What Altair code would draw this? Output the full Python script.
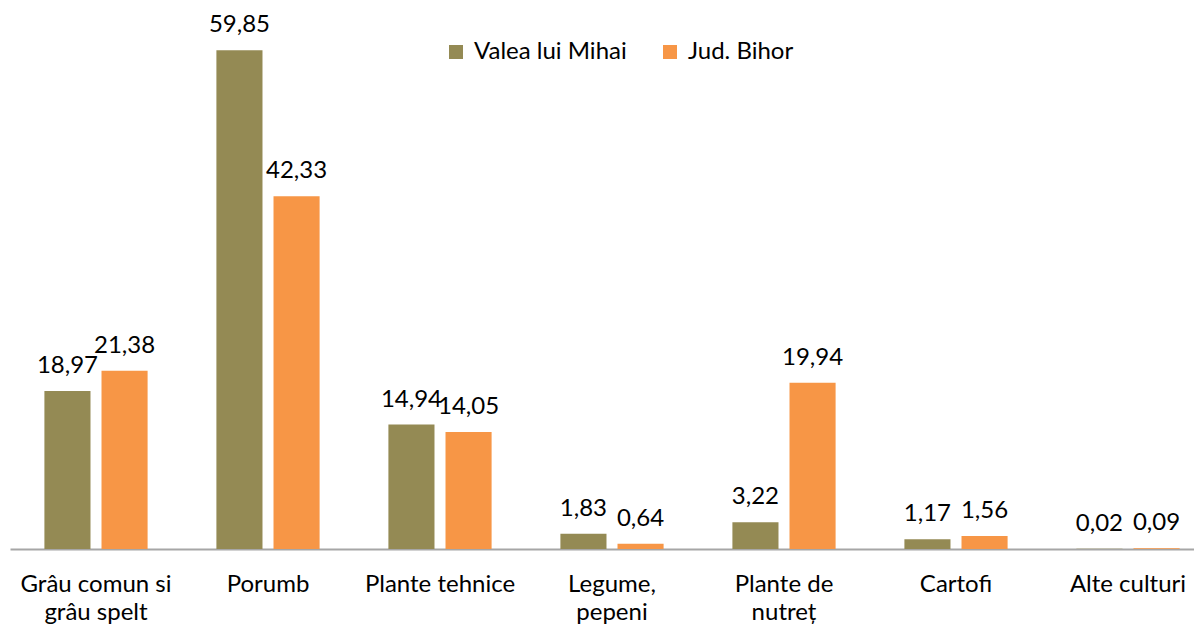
import altair as alt
import pandas as pd

categories = ["Grâu comun si\ngrâu spelt", "Porumb", "Plante tehnice", "Legume,\npepeni",
              "Plante de\nnutreț", "Cartofi", "Alte culturi"]
series = ["Valea lui Mihai", "Jud. Bihor"]
valea = [18.97, 59.85, 14.94, 1.83, 3.22, 1.17, 0.02]
bihor = [21.38, 42.33, 14.05, 0.64, 19.94, 1.56, 0.09]
colors = ["#948A54", "#F79646"]

rows = []
for c, a, b in zip(categories, valea, bihor):
    rows.append({"cat": c, "serie": series[0], "val": a})
    rows.append({"cat": c, "serie": series[1], "val": b})
df = pd.DataFrame(rows)

FONT = "Lato"

x = alt.X("cat:N", sort=categories, title=None,
          scale=alt.Scale(range=[0, 1204], paddingInner=0.4, paddingOuter=0.2),
          axis=alt.Axis(labelAngle=0, ticks=False, domainColor="#a6a6a6", domainWidth=2,
                        labelFontSize=24, labelFont=FONT, labelColor="#000000",
                        labelPadding=23, labelLineHeight=28, labelBaseline="top",
                        labelExpr="split(datum.label, '\\n')", labelLimit=300))
xo = alt.XOffset("serie:N", sort=series, scale=alt.Scale(paddingInner=0.193, paddingOuter=0))
y = alt.Y("val:Q", title=None, scale=alt.Scale(domain=[0, 60], nice=False, zero=True), axis=None)

base = alt.Chart(df).encode(x=x, xOffset=xo, y=y)

bars = base.mark_bar().encode(
    color=alt.Color("serie:N", sort=series, scale=alt.Scale(domain=series, range=colors),
                    legend=alt.Legend(title=None, orient="none", legendX=434, legendY=-9,
                                      direction="horizontal", symbolType="square", symbolSize=196,
                                      symbolStrokeWidth=0, labelFontSize=24, labelFont=FONT,
                                      labelColor="#000000", columnPadding=31, labelOffset=6))
)

labels = base.mark_text(baseline="alphabetic", dy=-18, fontSize=24, font=FONT, color="#000000").encode(
    text="lbl:N"
).transform_calculate(lbl="replace(format(datum.val, '.2f'), '.', ',')")

chart = (bars + labels).properties(
    width=1184, height=500,
    autosize=alt.AutoSizeParams(type="none"),
    padding={"left": 2, "top": 41, "right": 0, "bottom": 79},
).configure_view(stroke=None)

chart.save("out.html", embed_options={"renderer": "svg", "actions": False})
